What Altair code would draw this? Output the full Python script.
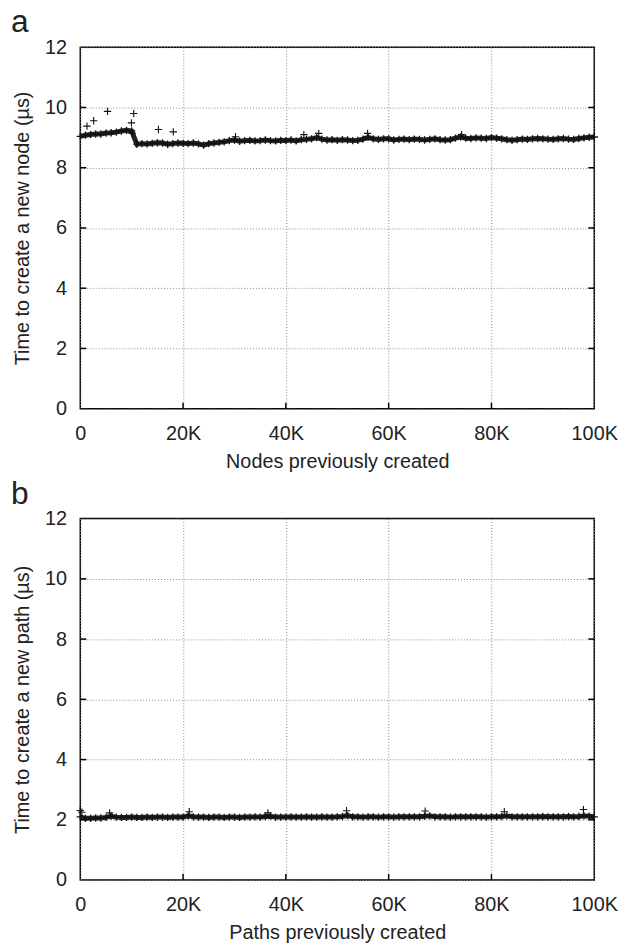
import altair as alt
import pandas as pd

# ---------------- data ----------------
# x positions in thousands (band samples)
x_k = list(range(0, 101))

# Panel a: time to create a new node (µs), band centre read every 1K
node_time = [
    9.04, 9.08, 9.10, 9.12, 9.12, 9.15, 9.16, 9.18, 9.22, 9.24,
    9.22, 8.78, 8.80, 8.79, 8.81, 8.83, 8.82, 8.78, 8.80, 8.82,
    8.81, 8.80, 8.82, 8.79, 8.75, 8.80, 8.82, 8.84, 8.86, 8.90,
    8.92, 8.88, 8.90, 8.91, 8.89, 8.90, 8.92, 8.90, 8.89, 8.91,
    8.90, 8.92, 8.89, 8.93, 8.94, 8.96, 9.00, 8.95, 8.92, 8.93,
    8.91, 8.93, 8.92, 8.90, 8.91, 8.95, 9.01, 8.96, 8.94, 8.96,
    8.96, 8.92, 8.94, 8.95, 8.93, 8.95, 8.94, 8.92, 8.94, 8.96,
    8.93, 8.92, 8.93, 8.98, 9.02, 8.98, 8.97, 8.99, 8.98, 8.97,
    9.00, 8.98, 8.96, 8.93, 8.91, 8.93, 8.95, 8.94, 8.96, 8.97,
    8.96, 8.95, 8.94, 8.96, 8.97, 8.95, 8.94, 8.97, 8.99, 9.01,
    9.02,
]
node_out_x = [1300, 2600, 5300, 9950, 10400, 10100, 15200, 18100, 30200, 43500, 46400, 55900, 74200]
node_out_y = [9.38, 9.56, 9.87, 9.49, 9.80, 9.14, 9.27, 9.19, 9.03, 9.10, 9.14, 9.14, 9.10]

# Panel b: time to create a new path (µs)
path_time = [
    2.10, 2.05, 2.05, 2.06, 2.06, 2.08, 2.12, 2.09, 2.08, 2.08,
    2.09, 2.08, 2.08, 2.09, 2.08, 2.09, 2.09, 2.08, 2.09, 2.09,
    2.09, 2.13, 2.10, 2.09, 2.09, 2.08, 2.09, 2.09, 2.08, 2.09,
    2.09, 2.08, 2.09, 2.09, 2.10, 2.09, 2.11, 2.12, 2.09, 2.09,
    2.09, 2.10, 2.09, 2.09, 2.10, 2.09, 2.09, 2.10, 2.09, 2.09,
    2.10, 2.11, 2.14, 2.10, 2.10, 2.09, 2.10, 2.10, 2.09, 2.10,
    2.10, 2.09, 2.10, 2.10, 2.10, 2.10, 2.10, 2.12, 2.13, 2.10,
    2.10, 2.10, 2.09, 2.10, 2.10, 2.10, 2.10, 2.10, 2.10, 2.09,
    2.10, 2.10, 2.11, 2.13, 2.10, 2.10, 2.10, 2.10, 2.10, 2.10,
    2.11, 2.10, 2.10, 2.10, 2.10, 2.11, 2.10, 2.11, 2.13, 2.12,
    2.10,
]
path_out_x = [0, 300, 5700, 21200, 36500, 51800, 67100, 82500, 97900]
path_out_y = [2.31, 2.25, 2.23, 2.27, 2.23, 2.30, 2.29, 2.27, 2.34]

x_ticks = [0, 20000, 40000, 60000, 80000, 100000]
y_ticks = [0, 2, 4, 6, 8, 10, 12]

FONT = "Liberation Sans"
W, H = 519, 365
PLUS = "M-1,0L1,0M0,-1L0,1"

x_dom = [0, 100000]
y_dom = [0, 12]
tick_len_x = 6 * (x_dom[1] - x_dom[0]) / W
tick_len_y = 6 * (y_dom[1] - y_dom[0]) / H


def panel(letter, values, ox, oy, xtitle, ytitle):
    band = pd.DataFrame({"x": [k * 1000 for k in x_k], "y": values})
    outl = pd.DataFrame({"x": ox, "y": oy})

    xs = alt.Scale(domain=x_dom, nice=False, zero=False)
    ys = alt.Scale(domain=y_dom, nice=False)
    xax = alt.Axis(values=x_ticks, title=xtitle,
                   labelExpr="datum.value == 0 ? '0' : (datum.value/1000) + 'K'",
                   labelPadding=15, titlePadding=8, labelFlush=False, labelOverlap=False)
    yax = alt.Axis(values=y_ticks, title=ytitle, labelPadding=14, titlePadding=12,
                   labelFlush=False, labelOverlap=False)

    base = alt.Chart(band)
    line = base.mark_line(color="#222", strokeWidth=5).encode(
        x=alt.X("x:Q", scale=xs, axis=xax), y=alt.Y("y:Q", scale=ys, axis=yax))
    pts = base.mark_point(shape=PLUS, size=55, filled=False, color="#111",
                          strokeWidth=1.3, opacity=1).encode(x="x:Q", y="y:Q")
    out = alt.Chart(outl).mark_point(shape=PLUS, size=55, filled=False, color="#111",
                                     strokeWidth=1.1, opacity=1).encode(x="x:Q", y="y:Q")

    inner_y = [v for v in y_ticks if 0 < v < 12]
    inner_x = [v for v in x_ticks if 0 < v < 100000]
    lt = pd.DataFrame({"y": inner_y, "x0": [x_dom[0]] * len(inner_y),
                       "x1": [x_dom[0] + tick_len_x] * len(inner_y)})
    rt = pd.DataFrame({"y": inner_y, "x0": [x_dom[1] - tick_len_x] * len(inner_y),
                       "x1": [x_dom[1]] * len(inner_y)})
    bt = pd.DataFrame({"x": inner_x, "y0": [0] * len(inner_x),
                       "y1": [tick_len_y] * len(inner_x)})
    tick_l = alt.Chart(lt).mark_rule(color="black", strokeWidth=1.5).encode(
        x="x0:Q", x2="x1:Q", y="y:Q")
    tick_r = alt.Chart(rt).mark_rule(color="black", strokeWidth=1.5).encode(
        x="x0:Q", x2="x1:Q", y="y:Q")
    tick_b = alt.Chart(bt).mark_rule(color="black", strokeWidth=1.5).encode(
        x="x:Q", y="y0:Q", y2="y1:Q")

    lab = alt.Chart(pd.DataFrame({"t": [letter]})).mark_text(
        align="left", baseline="alphabetic", fontSize=32, font=FONT, color="#222"
    ).encode(text="t:N", x=alt.value(-70), y=alt.value(-15))

    return alt.layer(line, pts, out, tick_l, tick_r, tick_b, lab).properties(width=W, height=H)


a = panel("a", node_time, node_out_x, node_out_y,
          "Nodes previously created", "Time to create a new node (µs)")
b = panel("b", path_time, path_out_x, path_out_y,
          "Paths previously created", "Time to create a new path (µs)")

chart = alt.vconcat(a, b, spacing=111, bounds="flush").properties(
    padding={"left": 2, "top": -7, "right": 0, "bottom": 0}
).configure_view(stroke="black", strokeWidth=1.5).configure_axis(
    labelFont=FONT, titleFont=FONT, labelFontSize=20, titleFontSize=20,
    labelColor="#222", titleColor="#222", titleFontWeight="normal",
    grid=True, gridColor="#888", gridDash=[1, 2], gridWidth=1,
    tickSize=0, domain=False,
)

chart.save("out.html", embed_options={"renderer": "svg", "actions": False})
